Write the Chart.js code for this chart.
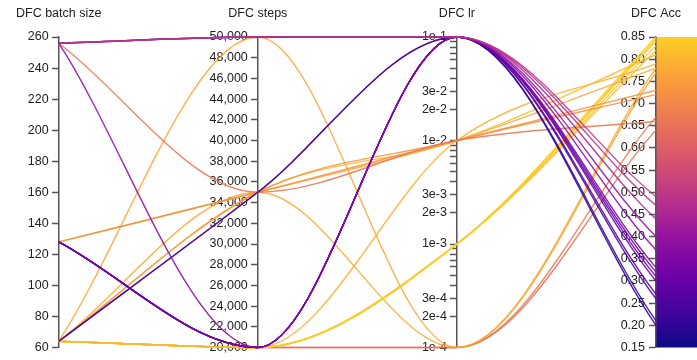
<!DOCTYPE html>
<html>
<head>
<meta charset="utf-8">
<title>DFC parallel coordinates</title>
<script src="https://cdn.jsdelivr.net/npm/chart.js@4.4.1/dist/chart.umd.min.js"></script>
<style>
  html, body { margin: 0; padding: 0; background: #ffffff; }
  canvas { display: block; }
</style>
</head>
<body>
<canvas id="chart" width="697" height="360"></canvas>
<script>
// ---- data: one entry per run, read column-wise ----
const axisTitles = ['DFC batch size', 'DFC steps', 'DFC lr', 'DFC Acc'];

const batchSize = [256, 256, 256, 256, 128, 128, 128, 128, 64, 64, 128, 128, 256,
                   256, 128, 64, 128, 64, 64, 64, 64, 64, 64, 64, 64, 64, 64, 64];
const steps     = [50000, 50000, 50000, 20000, 20000, 20000, 20000, 20000, 35000, 35000, 20000, 20000, 50000,
                   35000, 35000, 35000, 35000, 35000, 20000, 20000, 20000, 20000, 20000, 20000, 50000, 35000, 20000, 20000];
const lr        = [1e-1, 1e-1, 1e-1, 1e-1, 1e-1, 1e-1, 1e-1, 1e-1, 1e-1, 1e-1, 1e-1, 1e-1, 1e-1,
                   1e-2, 1e-2, 1e-2, 1e-2, 1e-2, 1e-2, 1e-3, 1e-3, 1e-3, 1e-3, 1e-3, 1e-4, 1e-4, 1e-4, 1e-4];
const acc       = [0.49, 0.44, 0.40, 0.37, 0.33, 0.32, 0.31, 0.30, 0.21, 0.47, 0.26, 0.27, 0.20,
                   0.66, 0.72, 0.73, 0.78, 0.81, 0.79, 0.85, 0.845, 0.84, 0.83, 0.82, 0.77, 0.78, 0.64, 0.67];

// tick values for each vertical axis
const batchTicks = [60, 80, 100, 120, 140, 160, 180, 200, 220, 240, 260];
const stepTicks  = [20000, 22000, 24000, 26000, 28000, 30000, 32000, 34000, 36000, 38000,
                    40000, 42000, 44000, 46000, 48000, 50000];
const lrTicks    = [1e-4, 2e-4, 3e-4, 4e-4, 5e-4, 6e-4, 7e-4, 8e-4, 9e-4,
                    1e-3, 2e-3, 3e-3, 4e-3, 5e-3, 6e-3, 7e-3, 8e-3, 9e-3,
                    1e-2, 2e-2, 3e-2, 4e-2, 5e-2, 6e-2, 7e-2, 8e-2, 9e-2, 1e-1];
const accTicks   = [0.15, 0.20, 0.25, 0.30, 0.35, 0.40, 0.45, 0.50, 0.55, 0.60, 0.65, 0.70, 0.75, 0.80, 0.85];

// ---- colour scale (plasma), acc range mapped onto its lower 90% ----
const PLASMA = ['#0d0887', '#41049d', '#6a00a8', '#8f0da4', '#b12a90', '#cc4778',
                '#e16462', '#f2844b', '#fca636', '#fcce25', '#f0f921'];
const ACC_MIN = 0.15, ACC_MAX = 0.85, CMAP_TOP = 0.9;

function hexToRgb(h) {
  return [parseInt(h.slice(1, 3), 16), parseInt(h.slice(3, 5), 16), parseInt(h.slice(5, 7), 16)];
}
function plasma(t) {
  t = Math.min(1, Math.max(0, t));
  const f = t * (PLASMA.length - 1);
  const i = Math.min(PLASMA.length - 2, Math.floor(f));
  const k = f - i;
  const a = hexToRgb(PLASMA[i]), b = hexToRgb(PLASMA[i + 1]);
  return a.map((v, j) => Math.round(v + (b[j] - v) * k));
}
function accColor(v, alpha) {
  const t = (v - ACC_MIN) / (ACC_MAX - ACC_MIN) * CMAP_TOP;
  const [r, g, b] = plasma(t);
  return `rgba(${r},${g},${b},${alpha})`;
}

// ---- axis scales that sit inside the plot and keep their labels left of the tick marks ----
function withLabelGap(Base, id) {
  return class extends Base {
    static id = id;
    static defaults = Base.defaults;
    _computeLabelItems(chartArea) {
      const items = super._computeLabelItems(chartArea);
      const gap = this.options.grid.tickLength + this.options.ticks.padding;
      items.forEach(it => { it.options.translation[0] -= gap; });
      return items;
    }
  };
}
Chart.register(withLabelGap(Chart.LinearScale, 'axisLinear'),
               withLabelGap(Chart.LogarithmicScale, 'axisLog'));

// ---- one line dataset per run ----
const AXIS_IDS = ['yBatch', 'ySteps', 'yLr', 'yAcc'];
const columns = [batchSize, steps, lr, acc];
const datasets = acc.map((a, r) => ({
  label: 'run ' + (r + 1),
  data: columns.map((col, i) => ({ x: i, y: col[r] })),
  yAxisID: 'yBatch',
  borderColor: accColor(a, 0.88),
  borderWidth: 1.4,
  pointRadius: 0,
  fill: false,
  clip: false,
  cubicInterpolationMode: 'monotone'
}));

// each point of a run is placed by the scale of the axis it sits on
const perAxisPlacement = {
  id: 'perAxisPlacement',
  afterDatasetUpdate(chart, args) {
    const ds = chart.data.datasets[args.index];
    args.meta.data.forEach((pt, i) => {
      pt.y = chart.scales[AXIS_IDS[i]].getPixelForValue(ds.data[i].y);
    });
  }
};

// colour bar next to the accuracy axis
const colorBar = {
  id: 'colorBar',
  beforeDraw(chart) {
    const s = chart.scales.yAcc;
    const x0 = chart.scales.x.getPixelForValue(3);
    const yTop = s.getPixelForValue(ACC_MAX), yBot = s.getPixelForValue(ACC_MIN);
    const ctx = chart.ctx;
    const g = ctx.createLinearGradient(0, yBot, 0, yTop);
    for (let k = 0; k <= 20; k++) {
      const v = ACC_MIN + (ACC_MAX - ACC_MIN) * k / 20;
      g.addColorStop(k / 20, accColor(v, 1));
    }
    ctx.save();
    ctx.fillStyle = g;
    ctx.fillRect(x0, yTop, chart.width - x0, yBot - yTop);
    ctx.restore();
  }
};

const AXIS_COLOR = '#555555';
const TEXT_COLOR = '#222222';

function verticalAxis(pos, extra) {
  return Object.assign({
    axis: 'y',
    position: { x: pos },
    grid: { drawOnChartArea: false, tickLength: 6, color: AXIS_COLOR, tickWidth: 1.5 },
    border: { display: true, color: AXIS_COLOR, width: 1.5 }
  }, extra);
}
function axisTicks(padding, callback) {
  return { autoSkip: false, padding, color: TEXT_COLOR, font: { size: 12.5 }, callback };
}
function setTicks(values) {
  return scale => { scale.ticks = values.map(v => ({ value: v })); };
}
function lrLabel(v) {
  const e = Math.floor(Math.log10(v) + 1e-9);
  const m = Math.round(v / Math.pow(10, e));
  return m <= 3 ? `${m}e${e}` : '';
}

Chart.defaults.font.family = '"Liberation Sans", Arial, Helvetica, sans-serif';
Chart.defaults.color = TEXT_COLOR;

new Chart(document.getElementById('chart'), {
  type: 'line',
  data: { datasets },
  options: {
    responsive: false,
    animation: false,
    events: [],
    layout: { padding: { left: 53, right: 29, top: 5, bottom: 10 } },
    plugins: { legend: { display: false }, tooltip: { enabled: false } },
    scales: {
      x: {
        type: 'linear', position: 'top', min: 0, max: 3,
        grid: { display: false, drawTicks: false },
        border: { display: false },
        afterBuildTicks: setTicks([0, 1, 2, 3]),
        afterFit: s => { s.height = 32; },
        ticks: { autoSkip: false, maxRotation: 0, padding: 16, color: TEXT_COLOR, font: { size: 12.5 },
                 callback: v => axisTitles[v] }
      },
      yBatch: verticalAxis(0, { type: 'axisLinear', min: 60, max: 260, afterBuildTicks: setTicks(batchTicks),
                                ticks: axisTicks(4, v => String(v)) }),
      ySteps: verticalAxis(1, { type: 'axisLinear', min: 20000, max: 50000, afterBuildTicks: setTicks(stepTicks),
                                ticks: axisTicks(4, v => v.toLocaleString('en-US')) }),
      yLr: verticalAxis(2, { type: 'axisLog', min: 1e-4, max: 1e-1, afterBuildTicks: setTicks(lrTicks),
                             ticks: axisTicks(4, v => lrLabel(v)) }),
      yAcc: verticalAxis(3, { type: 'axisLinear', min: 0.15, max: 0.85, afterBuildTicks: setTicks(accTicks),
                              ticks: axisTicks(5, v => v.toFixed(2)) })
    }
  },
  plugins: [perAxisPlacement, colorBar]
});
</script>
</body>
</html>
